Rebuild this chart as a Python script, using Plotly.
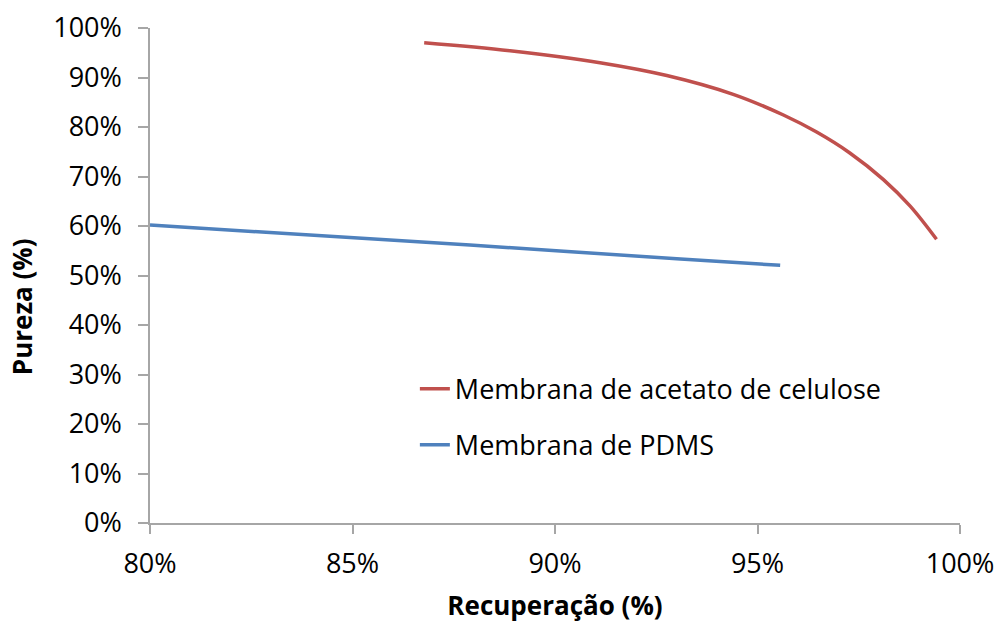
import plotly.graph_objects as go

# Recuperação x Pureza para as duas membranas
rec_acetato = [0.8677, 0.8889, 0.9111, 0.9276, 0.9440, 0.9564, 0.9646,
               0.9728, 0.9811, 0.9877, 0.9942]
pur_acetato = [0.9703, 0.9541, 0.9299, 0.9040, 0.8660, 0.8242, 0.7897,
               0.7475, 0.6937, 0.6400, 0.5731]

rec_pdms = [0.800, 0.879, 0.931, 0.9556]
pur_pdms = [0.602, 0.5616, 0.5333, 0.5206]

x_ticks = [0.80, 0.85, 0.90, 0.95, 1.00]
y_ticks = [0.0, 0.1, 0.2, 0.3, 0.4, 0.5, 0.6, 0.7, 0.8, 0.9, 1.0]

FONT = "Open Sans"
AXIS_GRAY = "#A6A6A6"

fig = go.Figure()
fig.add_trace(go.Scatter(
    x=rec_acetato, y=pur_acetato, mode="lines",
    name="Membrana de acetato de celulose",
    line=dict(color="#C0504D", width=3.5, shape="spline", smoothing=1.0),
    legendgroup="a",
))
fig.add_trace(go.Scatter(
    x=rec_pdms, y=pur_pdms, mode="lines",
    name="Membrana de PDMS",
    line=dict(color="#4F81BD", width=3.5, shape="spline", smoothing=0.6),
    legendgroup="b",
))

fig.update_layout(
    width=997, height=626,
    margin=dict(l=150, r=37, t=28, b=103),
    paper_bgcolor="white", plot_bgcolor="white",
    font=dict(family=FONT, size=27, color="black"),
    showlegend=True,
    legend=dict(
        x=0.327, y=0.32, xanchor="left", yanchor="top",
        bgcolor="rgba(0,0,0,0)", font=dict(family=FONT, size=27),
        tracegroupgap=18, itemwidth=30,
    ),
    xaxis=dict(
        range=[0.80, 1.00], tickvals=x_ticks, tickformat=".0%",
        showgrid=False, zeroline=False, automargin=False,
        showline=True, linecolor=AXIS_GRAY, linewidth=1.5,
        ticks="outside", ticklen=9, tickcolor=AXIS_GRAY, tickwidth=1.5,
        ticklabelstandoff=7,
        title=dict(text="<b>Recuperação (%)</b>", font=dict(family=FONT, size=26), standoff=17),
    ),
    yaxis=dict(
        range=[0, 1], tickvals=y_ticks, tickformat=".0%",
        showgrid=False, zeroline=False, automargin=False,
        showline=True, linecolor=AXIS_GRAY, linewidth=1.5,
        ticks="outside", ticklen=10, tickcolor=AXIS_GRAY, tickwidth=1.5,
        ticklabelstandoff=11,
    ),
    annotations=[dict(
        text="<b>Pureza (%)</b>", textangle=-90,
        xref="paper", yref="paper", x=-0.158, y=0.436,
        xanchor="center", yanchor="middle", showarrow=False,
        font=dict(family=FONT, size=26),
    )],
)

fig.write_html("out.html")
